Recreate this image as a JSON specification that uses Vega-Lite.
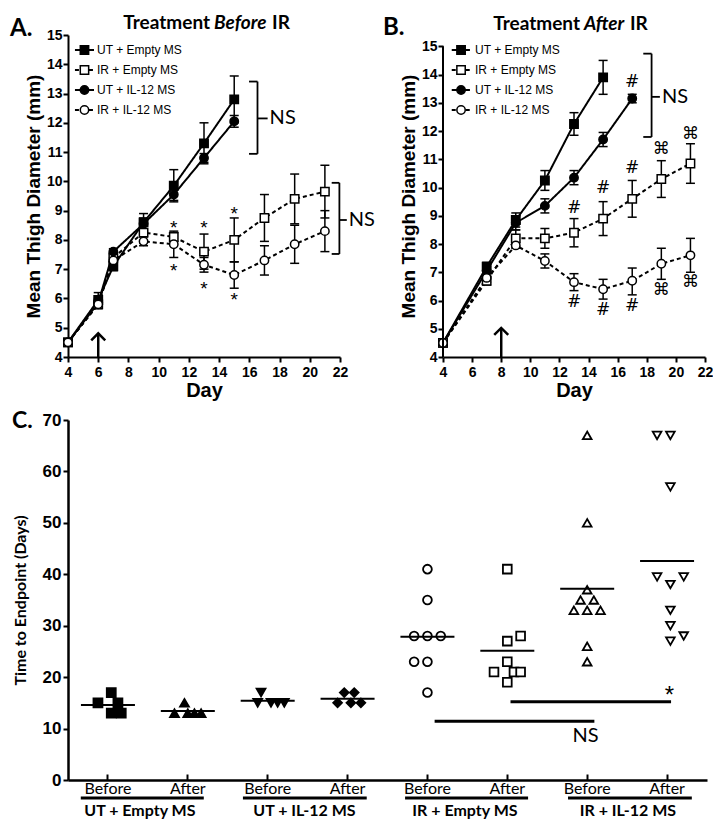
{
"$schema":"https://vega.github.io/schema/vega-lite/v6.json",
"background":"white",
"padding":{"left":9,"top":14,"right":0,"bottom":0},
"spacing":10,
"resolve":{"scale":{"shape":"independent","fill":"independent","size":"independent","strokeDash":"independent"}},
"config":{
 "view":{"stroke":null},
 "axis":{"domainColor":"black","domainWidth":2,"tickColor":"black","tickWidth":2,"tickSize":5,"labelColor":"black","labelFont":"Liberation Sans","labelFontWeight":"bold","labelFontSize":14,"labelPadding":2,"titleColor":"black","titleFont":"Liberation Sans","titleFontWeight":"bold","grid":false,"labelOverlap":false,"labelFlush":false},
 "text":{"color":"black","font":"Lato"},
 "rule":{"color":"black"}
},
"datasets":{
 "A":[
  {"series":"UT + Empty MS","day":4,"mean":4.5,"lo":null,"hi":null},
  {"series":"UT + Empty MS","day":6,"mean":5.95,"lo":5.75,"hi":6.2},
  {"series":"UT + Empty MS","day":7,"mean":7.1,"lo":6.95,"hi":7.25},
  {"series":"UT + Empty MS","day":9,"mean":8.6,"lo":8.3,"hi":8.9},
  {"series":"UT + Empty MS","day":11,"mean":9.85,"lo":9.3,"hi":10.4},
  {"series":"UT + Empty MS","day":13,"mean":11.3,"lo":10.6,"hi":12.0},
  {"series":"UT + Empty MS","day":15,"mean":12.8,"lo":12.0,"hi":13.6},
  {"series":"IR + Empty MS","day":4,"mean":4.5,"lo":null,"hi":null},
  {"series":"IR + Empty MS","day":6,"mean":5.8,"lo":5.65,"hi":5.95},
  {"series":"IR + Empty MS","day":7,"mean":7.4,"lo":7.25,"hi":7.55},
  {"series":"IR + Empty MS","day":9,"mean":8.25,"lo":7.95,"hi":8.55},
  {"series":"IR + Empty MS","day":11,"mean":8.1,"lo":7.95,"hi":8.25},
  {"series":"IR + Empty MS","day":13,"mean":7.6,"lo":7.0,"hi":8.2},
  {"series":"IR + Empty MS","day":15,"mean":8.0,"lo":7.25,"hi":8.75},
  {"series":"IR + Empty MS","day":17,"mean":8.75,"lo":7.95,"hi":9.55},
  {"series":"IR + Empty MS","day":19,"mean":9.4,"lo":8.55,"hi":10.25},
  {"series":"IR + Empty MS","day":21,"mean":9.65,"lo":8.75,"hi":10.55},
  {"series":"UT + IL-12 MS","day":4,"mean":4.5,"lo":null,"hi":null},
  {"series":"UT + IL-12 MS","day":6,"mean":5.85,"lo":5.7,"hi":6.0},
  {"series":"UT + IL-12 MS","day":7,"mean":7.6,"lo":7.5,"hi":7.7},
  {"series":"UT + IL-12 MS","day":9,"mean":8.55,"lo":8.35,"hi":8.75},
  {"series":"UT + IL-12 MS","day":11,"mean":9.55,"lo":9.35,"hi":9.75},
  {"series":"UT + IL-12 MS","day":13,"mean":10.8,"lo":10.65,"hi":10.95},
  {"series":"UT + IL-12 MS","day":15,"mean":12.05,"lo":11.85,"hi":12.25},
  {"series":"IR + IL-12 MS","day":4,"mean":4.5,"lo":null,"hi":null},
  {"series":"IR + IL-12 MS","day":6,"mean":5.8,"lo":5.7,"hi":5.9},
  {"series":"IR + IL-12 MS","day":7,"mean":7.3,"lo":7.2,"hi":7.4},
  {"series":"IR + IL-12 MS","day":9,"mean":7.95,"lo":7.8,"hi":8.1},
  {"series":"IR + IL-12 MS","day":11,"mean":7.85,"lo":7.4,"hi":8.3},
  {"series":"IR + IL-12 MS","day":13,"mean":7.15,"lo":6.9,"hi":7.4},
  {"series":"IR + IL-12 MS","day":15,"mean":6.8,"lo":6.35,"hi":7.25},
  {"series":"IR + IL-12 MS","day":17,"mean":7.3,"lo":6.8,"hi":7.8},
  {"series":"IR + IL-12 MS","day":19,"mean":7.85,"lo":7.2,"hi":8.5},
  {"series":"IR + IL-12 MS","day":21,"mean":8.3,"lo":7.6,"hi":9.0}
 ],
 "B":[
  {"series":"UT + Empty MS","day":4,"mean":4.5,"lo":null,"hi":null},
  {"series":"UT + Empty MS","day":7,"mean":7.2,"lo":7.05,"hi":7.35},
  {"series":"UT + Empty MS","day":9,"mean":8.85,"lo":8.6,"hi":9.1},
  {"series":"UT + Empty MS","day":11,"mean":10.25,"lo":9.9,"hi":10.6},
  {"series":"UT + Empty MS","day":13,"mean":12.25,"lo":11.85,"hi":12.65},
  {"series":"UT + Empty MS","day":15,"mean":13.9,"lo":13.3,"hi":14.5},
  {"series":"UT + IL-12 MS","day":4,"mean":4.5,"lo":null,"hi":null},
  {"series":"UT + IL-12 MS","day":7,"mean":7.05,"lo":6.9,"hi":7.2},
  {"series":"UT + IL-12 MS","day":9,"mean":8.75,"lo":8.5,"hi":9.0},
  {"series":"UT + IL-12 MS","day":11,"mean":9.35,"lo":9.1,"hi":9.6},
  {"series":"UT + IL-12 MS","day":13,"mean":10.35,"lo":10.1,"hi":10.6},
  {"series":"UT + IL-12 MS","day":15,"mean":11.7,"lo":11.45,"hi":11.95},
  {"series":"UT + IL-12 MS","day":17,"mean":13.15,"lo":13.0,"hi":13.3},
  {"series":"IR + Empty MS","day":4,"mean":4.5,"lo":null,"hi":null},
  {"series":"IR + Empty MS","day":7,"mean":6.7,"lo":6.55,"hi":6.85},
  {"series":"IR + Empty MS","day":9,"mean":8.2,"lo":7.9,"hi":8.5},
  {"series":"IR + Empty MS","day":11,"mean":8.2,"lo":7.85,"hi":8.55},
  {"series":"IR + Empty MS","day":13,"mean":8.4,"lo":7.9,"hi":8.9},
  {"series":"IR + Empty MS","day":15,"mean":8.9,"lo":8.3,"hi":9.5},
  {"series":"IR + Empty MS","day":17,"mean":9.6,"lo":8.95,"hi":10.25},
  {"series":"IR + Empty MS","day":19,"mean":10.3,"lo":9.65,"hi":10.95},
  {"series":"IR + Empty MS","day":21,"mean":10.85,"lo":10.15,"hi":11.55},
  {"series":"IR + IL-12 MS","day":4,"mean":4.5,"lo":null,"hi":null},
  {"series":"IR + IL-12 MS","day":7,"mean":6.8,"lo":6.65,"hi":6.95},
  {"series":"IR + IL-12 MS","day":9,"mean":7.95,"lo":7.85,"hi":8.05},
  {"series":"IR + IL-12 MS","day":11,"mean":7.4,"lo":7.15,"hi":7.65},
  {"series":"IR + IL-12 MS","day":13,"mean":6.65,"lo":6.35,"hi":6.95},
  {"series":"IR + IL-12 MS","day":15,"mean":6.4,"lo":6.05,"hi":6.75},
  {"series":"IR + IL-12 MS","day":17,"mean":6.7,"lo":6.2,"hi":7.15},
  {"series":"IR + IL-12 MS","day":19,"mean":7.3,"lo":6.75,"hi":7.85},
  {"series":"IR + IL-12 MS","day":21,"mean":7.6,"lo":7.0,"hi":8.2}
 ],
 "Asig":[
  {"day":11,"y":8.57,"sym":"*"},{"day":13,"y":8.57,"sym":"*"},{"day":15,"y":9.05,"sym":"*"},
  {"day":11,"y":7.11,"sym":"*"},{"day":13,"y":6.49,"sym":"*"},{"day":15,"y":6.12,"sym":"*"}
 ],
 "Bsig":[
  {"day":13,"y":9.27,"sym":"#"},{"day":15,"y":9.97,"sym":"#"},{"day":17,"y":10.68,"sym":"#"},{"day":17,"y":13.73,"sym":"#"},
  {"day":13,"y":5.95,"sym":"#"},{"day":15,"y":5.66,"sym":"#"},{"day":17,"y":5.8,"sym":"#"},
  {"day":19,"y":11.38,"sym":"⌘"},{"day":21,"y":11.9,"sym":"⌘"},{"day":19,"y":6.37,"sym":"⌘"},{"day":21,"y":6.66,"sym":"⌘"}
 ],
 "Abr":[
  {"left":15.98,"vert":16.54,"right":17.21,"top":13.41,"bottom":10.94,"mid":12.15,"label":"NS"},
  {"left":21.45,"vert":21.96,"right":22.45,"top":9.95,"bottom":7.52,"mid":8.68,"label":"NS"}
 ],
 "Bbr":[
  {"left":17.76,"vert":18.33,"right":18.9,"top":14.74,"bottom":11.79,"mid":13.21,"label":"NS"}
 ],
 "legend":[
  {"series":"UT + Empty MS","order":1},{"series":"IR + Empty MS","order":2},
  {"series":"UT + IL-12 MS","order":3},{"series":"IR + IL-12 MS","order":4}
 ],
 "C":[
  {"cat":"UT + Empty MS Before","value":17,"slot":1},{"cat":"UT + Empty MS Before","value":15,"slot":-3},{"cat":"UT + Empty MS Before","value":15,"slot":3},{"cat":"UT + Empty MS Before","value":13,"slot":1},{"cat":"UT + Empty MS Before","value":13,"slot":4},
  {"cat":"UT + Empty MS After","value":15,"slot":-1},{"cat":"UT + Empty MS After","value":13,"slot":-4},{"cat":"UT + Empty MS After","value":13,"slot":0},{"cat":"UT + Empty MS After","value":13,"slot":2},{"cat":"UT + Empty MS After","value":13,"slot":4},
  {"cat":"UT + IL-12 MS Before","value":17,"slot":-2},{"cat":"UT + IL-12 MS Before","value":15,"slot":-3},{"cat":"UT + IL-12 MS Before","value":15,"slot":1},{"cat":"UT + IL-12 MS Before","value":15,"slot":3},{"cat":"UT + IL-12 MS Before","value":15,"slot":5},
  {"cat":"UT + IL-12 MS After","value":17,"slot":-1},{"cat":"UT + IL-12 MS After","value":17,"slot":2},{"cat":"UT + IL-12 MS After","value":15,"slot":-3},{"cat":"UT + IL-12 MS After","value":15,"slot":1},{"cat":"UT + IL-12 MS After","value":15,"slot":4},
  {"cat":"IR + Empty MS Before","value":41,"slot":0},{"cat":"IR + Empty MS Before","value":35,"slot":0},{"cat":"IR + Empty MS Before","value":28,"slot":-4},{"cat":"IR + Empty MS Before","value":28,"slot":0},{"cat":"IR + Empty MS Before","value":28,"slot":4},{"cat":"IR + Empty MS Before","value":23,"slot":-4},{"cat":"IR + Empty MS Before","value":23,"slot":0},{"cat":"IR + Empty MS Before","value":17,"slot":0},
  {"cat":"IR + Empty MS After","value":41,"slot":0},{"cat":"IR + Empty MS After","value":28,"slot":4},{"cat":"IR + Empty MS After","value":27,"slot":0},{"cat":"IR + Empty MS After","value":23,"slot":0},{"cat":"IR + Empty MS After","value":21,"slot":-4},{"cat":"IR + Empty MS After","value":21,"slot":2},{"cat":"IR + Empty MS After","value":21,"slot":4},{"cat":"IR + Empty MS After","value":19,"slot":0},
  {"cat":"IR + IL-12 MS Before","value":67,"slot":0},{"cat":"IR + IL-12 MS Before","value":50,"slot":0},{"cat":"IR + IL-12 MS Before","value":37,"slot":0},{"cat":"IR + IL-12 MS Before","value":35,"slot":-2},{"cat":"IR + IL-12 MS Before","value":35,"slot":2},{"cat":"IR + IL-12 MS Before","value":33,"slot":-4},{"cat":"IR + IL-12 MS Before","value":33,"slot":0},{"cat":"IR + IL-12 MS Before","value":33,"slot":4},{"cat":"IR + IL-12 MS Before","value":26,"slot":0},{"cat":"IR + IL-12 MS Before","value":23,"slot":0},
  {"cat":"IR + IL-12 MS After","value":67,"slot":-3},{"cat":"IR + IL-12 MS After","value":67,"slot":1},{"cat":"IR + IL-12 MS After","value":57,"slot":1},{"cat":"IR + IL-12 MS After","value":39.5,"slot":-3},{"cat":"IR + IL-12 MS After","value":38,"slot":1},{"cat":"IR + IL-12 MS After","value":39.5,"slot":5},{"cat":"IR + IL-12 MS After","value":33,"slot":1},{"cat":"IR + IL-12 MS After","value":30,"slot":1},{"cat":"IR + IL-12 MS After","value":27,"slot":1},{"cat":"IR + IL-12 MS After","value":28,"slot":5}
 ],
 "Cgroups":[
  {"group":"UT + Empty MS","from":0.16,"to":1.7,"mid":0.9},
  {"group":"UT + IL-12 MS","from":2.19,"to":3.74,"mid":2.96},
  {"group":"IR + Empty MS","from":4.22,"to":5.76,"mid":4.97},
  {"group":"IR + IL-12 MS","from":6.26,"to":7.81,"mid":7.01}
 ],
 "Cbars":[
  {"from":4.59,"to":6.59,"y":11.4},
  {"from":5.54,"to":7.55,"y":15.2}
 ]
},
"vconcat":[
 {"hconcat":[
  {
   "width":272,"height":322,
   "resolve":{"scale":{"y":"independent"}},
   "layer":[
    {"layer":[
     {"data":{"name":"A"},"mark":{"type":"line","color":"black","strokeWidth":2},
      "encoding":{
       "x":{"field":"day","type":"quantitative","scale":{"domain":[4,22],"nice":false,"zero":false},"axis":{"values":[4,6,8,10,12,14,16,18,20,22],"tickCount":40,"format":"d","labelOverlap":false,"labelFlush":false,"title":"Day","titleFontSize":20,"titlePadding":1,"labelPadding":3}},
       "y":{"field":"mean","type":"quantitative","scale":{"domain":[4,15],"nice":false,"zero":false},"axis":{"values":[4,5,6,7,8,9,10,11,12,13,14,15],"tickCount":40,"format":"d","labelOverlap":false,"labelFlush":false,"title":"Mean Thigh Diameter (mm)","titleFontSize":19,"titlePadding":3,"labelPadding":1}},
       "detail":{"field":"series"},
       "strokeDash":{"field":"series","type":"nominal","scale":{"domain":["UT + Empty MS","IR + Empty MS","UT + IL-12 MS","IR + IL-12 MS"],"range":[[1,0],[4,3],[1,0],[4,3]]},"legend":null}
      }},
     {"data":{"name":"A"},"transform":[{"filter":"isValid(datum.lo)"}],"layer":[
      {"mark":{"type":"rule","strokeWidth":1.5,"color":"black"},"encoding":{"x":{"field":"day","type":"quantitative"},"y":{"field":"lo","type":"quantitative"},"y2":{"field":"hi"}}},
      {"mark":{"type":"tick","orient":"horizontal","size":9,"thickness":1.5,"color":"black","opacity":1},"encoding":{"x":{"field":"day","type":"quantitative"},"y":{"field":"lo","type":"quantitative"}}},
      {"mark":{"type":"tick","orient":"horizontal","size":9,"thickness":1.5,"color":"black","opacity":1},"encoding":{"x":{"field":"day","type":"quantitative"},"y":{"field":"hi","type":"quantitative"}}}
     ]},
     {"data":{"name":"A"},"mark":{"type":"point","filled":true,"stroke":"black","strokeWidth":1.5,"opacity":1},
      "encoding":{
       "x":{"field":"day","type":"quantitative"},
       "y":{"field":"mean","type":"quantitative"},
       "shape":{"field":"series","type":"nominal","scale":{"domain":["UT + Empty MS","IR + Empty MS","UT + IL-12 MS","IR + IL-12 MS"],"range":["square","square","circle","circle"]},"legend":null},
       "fill":{"field":"series","type":"nominal","scale":{"domain":["UT + Empty MS","IR + Empty MS","UT + IL-12 MS","IR + IL-12 MS"],"range":["black","white","black","white"]},"legend":null},
       "size":{"field":"series","type":"nominal","scale":{"domain":["UT + Empty MS","IR + Empty MS","UT + IL-12 MS","IR + IL-12 MS"],"range":[70,70,42,56]},"legend":null}
      }},
     {"data":{"name":"Asig"},"mark":{"type":"text","font":"Liberation Sans","fontSize":19,"dy":5,"color":"black"},
      "encoding":{"x":{"field":"day","type":"quantitative"},"y":{"field":"y","type":"quantitative"},"text":{"field":"sym"}}},
     {"data":{"name":"Abr"},"layer":[
      {"mark":{"type":"rule","strokeWidth":1.8},"encoding":{"x":{"field":"vert","type":"quantitative"},"y":{"field":"top","type":"quantitative"},"y2":{"field":"bottom"}}},
      {"mark":{"type":"rule","strokeWidth":1.8},"encoding":{"x":{"field":"left","type":"quantitative"},"x2":{"field":"vert"},"y":{"field":"top","type":"quantitative"}}},
      {"mark":{"type":"rule","strokeWidth":1.8},"encoding":{"x":{"field":"left","type":"quantitative"},"x2":{"field":"vert"},"y":{"field":"bottom","type":"quantitative"}}},
      {"mark":{"type":"rule","strokeWidth":1.8},"encoding":{"x":{"field":"vert","type":"quantitative"},"x2":{"field":"right"},"y":{"field":"mid","type":"quantitative"}}},
      {"mark":{"type":"text","align":"left","baseline":"middle","dx":2,"font":"Lato","fontSize":20,"color":"black"},"encoding":{"x":{"field":"right","type":"quantitative"},"y":{"field":"mid","type":"quantitative"},"text":{"field":"label"}}}
     ]},
     {"data":{"values":[{}]},"layer":[
      {"mark":{"type":"rule","strokeWidth":2.5},"encoding":{"x":{"datum":6},"y":{"datum":4},"y2":{"datum":4.81}}},
      {"mark":{"type":"point","shape":"M-1,1L0,0L1,1","size":196,"filled":false,"stroke":"black","strokeWidth":2.5,"opacity":1},"encoding":{"x":{"datum":6},"y":{"datum":4.81}}},
      {"mark":{"type":"text","align":"left","baseline":"alphabetic","font":"Lato","fontWeight":"bold","fontSize":24,"text":"A.","color":"black"},"encoding":{"x":{"datum":0.16},"y":{"datum":14.97}}},
      {"mark":{"type":"text","align":"right","baseline":"alphabetic","font":"Lato","fontWeight":"bold","fontSize":19,"text":"Treatment","color":"black"},"encoding":{"x":{"datum":13.4},"y":{"datum":15.19}}},
      {"mark":{"type":"text","align":"left","baseline":"alphabetic","font":"Lato","fontWeight":"bold","fontStyle":"italic","fontSize":19,"text":"Before","color":"black"},"encoding":{"x":{"datum":13.66},"y":{"datum":15.19}}},
      {"mark":{"type":"text","align":"left","baseline":"alphabetic","font":"Lato","fontWeight":"bold","fontSize":19,"text":"IR","color":"black"},"encoding":{"x":{"datum":17.5},"y":{"datum":15.19}}}
     ]}
    ]},
    {"data":{"name":"legend"},
     "encoding":{"y":{"field":"order","type":"quantitative","scale":{"domain":[0.25,16.35],"reverse":true,"nice":false,"zero":false},"axis":null}},
     "layer":[
      {"mark":{"type":"rule","strokeWidth":2.2},"encoding":{"x":{"datum":4.46},"x2":{"datum":5.72},
        "strokeDash":{"field":"series","type":"nominal","scale":{"domain":["UT + Empty MS","IR + Empty MS","UT + IL-12 MS","IR + IL-12 MS"],"range":[[1,0],[4,3],[1,0],[4,3]]},"legend":null}}},
      {"mark":{"type":"point","filled":true,"stroke":"black","strokeWidth":1.5,"opacity":1},"encoding":{"x":{"datum":5.09},
        "shape":{"field":"series","type":"nominal","scale":{"domain":["UT + Empty MS","IR + Empty MS","UT + IL-12 MS","IR + IL-12 MS"],"range":["square","square","circle","circle"]},"legend":null},
        "fill":{"field":"series","type":"nominal","scale":{"domain":["UT + Empty MS","IR + Empty MS","UT + IL-12 MS","IR + IL-12 MS"],"range":["black","white","black","white"]},"legend":null},
        "size":{"field":"series","type":"nominal","scale":{"domain":["UT + Empty MS","IR + Empty MS","UT + IL-12 MS","IR + IL-12 MS"],"range":[70,70,42,56]},"legend":null}}},
      {"mark":{"type":"text","align":"left","baseline":"middle","font":"Liberation Sans","fontSize":12,"color":"black"},"encoding":{"x":{"datum":5.92},"text":{"field":"series"}}}
     ]}
   ]
  },
  {
   "width":262,"height":322,
   "resolve":{"scale":{"y":"independent"}},
   "layer":[
    {"layer":[
     {"data":{"name":"B"},"mark":{"type":"line","color":"black","strokeWidth":2},
      "encoding":{
       "x":{"field":"day","type":"quantitative","scale":{"domain":[4,22],"nice":false,"zero":false},"axis":{"values":[4,6,8,10,12,14,16,18,20,22],"tickCount":40,"format":"d","labelOverlap":false,"labelFlush":false,"title":"Day","titleFontSize":20,"titlePadding":1,"labelPadding":3}},
       "y":{"field":"mean","type":"quantitative","scale":{"domain":[4,15.4],"nice":false,"zero":false},"axis":{"values":[4,5,6,7,8,9,10,11,12,13,14,15],"tickCount":40,"format":"d","labelOverlap":false,"labelFlush":false,"domain":false,"title":"Mean Thigh Diameter (mm)","titleFontSize":19,"titlePadding":3,"labelPadding":1}},
       "detail":{"field":"series"},
       "strokeDash":{"field":"series","type":"nominal","scale":{"domain":["UT + Empty MS","IR + Empty MS","UT + IL-12 MS","IR + IL-12 MS"],"range":[[1,0],[4,3],[1,0],[4,3]]},"legend":null}
      }},
     {"data":{"name":"B"},"transform":[{"filter":"isValid(datum.lo)"}],"layer":[
      {"mark":{"type":"rule","strokeWidth":1.5,"color":"black"},"encoding":{"x":{"field":"day","type":"quantitative"},"y":{"field":"lo","type":"quantitative"},"y2":{"field":"hi"}}},
      {"mark":{"type":"tick","orient":"horizontal","size":9,"thickness":1.5,"color":"black","opacity":1},"encoding":{"x":{"field":"day","type":"quantitative"},"y":{"field":"lo","type":"quantitative"}}},
      {"mark":{"type":"tick","orient":"horizontal","size":9,"thickness":1.5,"color":"black","opacity":1},"encoding":{"x":{"field":"day","type":"quantitative"},"y":{"field":"hi","type":"quantitative"}}}
     ]},
     {"data":{"name":"B"},"mark":{"type":"point","filled":true,"stroke":"black","strokeWidth":1.5,"opacity":1},
      "encoding":{
       "x":{"field":"day","type":"quantitative"},
       "y":{"field":"mean","type":"quantitative"},
       "shape":{"field":"series","type":"nominal","scale":{"domain":["UT + Empty MS","IR + Empty MS","UT + IL-12 MS","IR + IL-12 MS"],"range":["square","square","circle","circle"]},"legend":null},
       "fill":{"field":"series","type":"nominal","scale":{"domain":["UT + Empty MS","IR + Empty MS","UT + IL-12 MS","IR + IL-12 MS"],"range":["black","white","black","white"]},"legend":null},
       "size":{"field":"series","type":"nominal","scale":{"domain":["UT + Empty MS","IR + Empty MS","UT + IL-12 MS","IR + IL-12 MS"],"range":[70,70,42,56]},"legend":null}
      }},
     {"data":{"name":"Bsig"},"mark":{"type":"text","font":"DejaVu Sans","fontSize":17,"color":"black"},
      "encoding":{"x":{"field":"day","type":"quantitative"},"y":{"field":"y","type":"quantitative"},"text":{"field":"sym"}}},
     {"data":{"name":"Bbr"},"layer":[
      {"mark":{"type":"rule","strokeWidth":1.8},"encoding":{"x":{"field":"vert","type":"quantitative"},"y":{"field":"top","type":"quantitative"},"y2":{"field":"bottom"}}},
      {"mark":{"type":"rule","strokeWidth":1.8},"encoding":{"x":{"field":"left","type":"quantitative"},"x2":{"field":"vert"},"y":{"field":"top","type":"quantitative"}}},
      {"mark":{"type":"rule","strokeWidth":1.8},"encoding":{"x":{"field":"left","type":"quantitative"},"x2":{"field":"vert"},"y":{"field":"bottom","type":"quantitative"}}},
      {"mark":{"type":"rule","strokeWidth":1.8},"encoding":{"x":{"field":"vert","type":"quantitative"},"x2":{"field":"right"},"y":{"field":"mid","type":"quantitative"}}},
      {"mark":{"type":"text","align":"left","baseline":"middle","dx":2,"font":"Lato","fontSize":20,"color":"black"},"encoding":{"x":{"field":"right","type":"quantitative"},"y":{"field":"mid","type":"quantitative"},"text":{"field":"label"}}}
     ]},
     {"data":{"values":[{}]},"layer":[
      {"mark":{"type":"rule","strokeWidth":2},"encoding":{"x":{"datum":4},"y":{"datum":4},"y2":{"datum":15}}},
      {"mark":{"type":"rule","strokeWidth":2.5},"encoding":{"x":{"datum":8},"y":{"datum":4},"y2":{"datum":5.03}}},
      {"mark":{"type":"point","shape":"M-1,1L0,0L1,1","size":196,"filled":false,"stroke":"black","strokeWidth":2.5,"opacity":1},"encoding":{"x":{"datum":8},"y":{"datum":5.03}}},
      {"mark":{"type":"text","align":"left","baseline":"alphabetic","font":"Lato","fontWeight":"bold","fontSize":24,"text":"B.","color":"black"},"encoding":{"x":{"datum":-0.12},"y":{"datum":15.4}}},
      {"mark":{"type":"text","align":"right","baseline":"alphabetic","font":"Lato","fontWeight":"bold","fontSize":19,"text":"Treatment","color":"black"},"encoding":{"x":{"datum":13.41},"y":{"datum":15.58}}},
      {"mark":{"type":"text","align":"left","baseline":"alphabetic","font":"Lato","fontWeight":"bold","fontStyle":"italic","fontSize":19,"text":"After","color":"black"},"encoding":{"x":{"datum":13.68},"y":{"datum":15.58}}},
      {"mark":{"type":"text","align":"left","baseline":"alphabetic","font":"Lato","fontWeight":"bold","fontSize":19,"text":"IR","color":"black"},"encoding":{"x":{"datum":16.84},"y":{"datum":15.58}}}
     ]}
    ]},
    {"data":{"name":"legend"},
     "encoding":{"y":{"field":"order","type":"quantitative","scale":{"domain":[0.25,16.35],"reverse":true,"nice":false,"zero":false},"axis":null}},
     "layer":[
      {"mark":{"type":"rule","strokeWidth":2.2},"encoding":{"x":{"datum":4.6},"x2":{"datum":5.85},
        "strokeDash":{"field":"series","type":"nominal","scale":{"domain":["UT + Empty MS","IR + Empty MS","UT + IL-12 MS","IR + IL-12 MS"],"range":[[1,0],[4,3],[1,0],[4,3]]},"legend":null}}},
      {"mark":{"type":"point","filled":true,"stroke":"black","strokeWidth":1.5,"opacity":1},"encoding":{"x":{"datum":5.24},
        "shape":{"field":"series","type":"nominal","scale":{"domain":["UT + Empty MS","IR + Empty MS","UT + IL-12 MS","IR + IL-12 MS"],"range":["square","square","circle","circle"]},"legend":null},
        "fill":{"field":"series","type":"nominal","scale":{"domain":["UT + Empty MS","IR + Empty MS","UT + IL-12 MS","IR + IL-12 MS"],"range":["black","white","black","white"]},"legend":null},
        "size":{"field":"series","type":"nominal","scale":{"domain":["UT + Empty MS","IR + Empty MS","UT + IL-12 MS","IR + IL-12 MS"],"range":[70,70,42,56]},"legend":null}}},
      {"mark":{"type":"text","align":"left","baseline":"middle","font":"Liberation Sans","fontSize":12,"color":"black"},"encoding":{"x":{"datum":6.2},"text":{"field":"series"}}}
     ]}
   ]
  }
 ],"spacing":103,"bounds":"flush","resolve":{"scale":{"shape":"independent","fill":"independent","size":"independent","strokeDash":"independent"}}},
 {
  "width":639,"height":360,
  "resolve":{"scale":{"x":"independent"}},
  "layer":[
   {"data":{"name":"C"},"layer":[
    {"mark":{"type":"point","filled":true,"stroke":"black","strokeWidth":1.8,"opacity":1},
     "encoding":{
      "x":{"field":"cat","type":"nominal","sort":null,"scale":{"domain":["UT + Empty MS Before","UT + Empty MS After","UT + IL-12 MS Before","UT + IL-12 MS After","IR + Empty MS Before","IR + Empty MS After","IR + IL-12 MS Before","IR + IL-12 MS After"],"paddingInner":0,"paddingOuter":0},
        "axis":{"title":null,"labelExpr":"indexof(datum.value,'Before')>=0?'Before':'After'","labelAngle":0,"labelOverlap":false,"labelFlush":false,"labelFont":"Lato","labelFontWeight":"normal","labelFontSize":16,"tickSize":-6,"labelPadding":6,"domainWidth":2.5}},
      "xOffset":{"field":"slot","type":"ordinal","scale":{"domain":[-12,-11,-10,-9,-8,-7,-6,-5,-4,-3,-2,-1,0,1,2,3,4,5,6,7,8,9,10,11,12],"paddingInner":0,"paddingOuter":0}},
      "y":{"field":"value","type":"quantitative","scale":{"domain":[0,70],"nice":false,"zero":false},"axis":{"values":[0,10,20,30,40,50,60,70],"tickCount":40,"format":"d","labelOverlap":false,"labelFlush":false,"title":"Time to Endpoint (Days)","titleFont":"Lato","titleFontSize":16,"titlePadding":14,"labelFontSize":17,"labelPadding":2,"domainWidth":2.5}},
      "shape":{"field":"cat","type":"nominal","scale":{"domain":["UT + Empty MS Before","UT + Empty MS After","UT + IL-12 MS Before","UT + IL-12 MS After","IR + Empty MS Before","IR + Empty MS After","IR + IL-12 MS Before","IR + IL-12 MS After"],"range":["square","triangle-up","triangle-down","diamond","circle","square","triangle-up","triangle-down"]},"legend":null},
      "fill":{"field":"cat","type":"nominal","scale":{"domain":["UT + Empty MS Before","UT + Empty MS After","UT + IL-12 MS Before","UT + IL-12 MS After","IR + Empty MS Before","IR + Empty MS After","IR + IL-12 MS Before","IR + IL-12 MS After"],"range":["black","black","black","black","white","white","white","white"]},"legend":null},
      "size":{"field":"cat","type":"nominal","scale":{"domain":["UT + Empty MS Before","UT + Empty MS After","UT + IL-12 MS Before","UT + IL-12 MS After","IR + Empty MS Before","IR + Empty MS After","IR + IL-12 MS Before","IR + IL-12 MS After"],"range":[80,75,75,80,60,75,75,75]},"legend":null}
     }},
    {"mark":{"type":"tick","orient":"horizontal","color":"black","size":54,"thickness":2,"opacity":1},
     "encoding":{"x":{"field":"cat","type":"nominal","sort":null},"y":{"aggregate":"mean","field":"value","type":"quantitative"}}}
   ]},
   {"layer":[
    {"data":{"name":"Cgroups"},"mark":{"type":"rule","strokeWidth":3},
     "encoding":{"x":{"field":"from","type":"quantitative","scale":{"domain":[0,8],"nice":false,"zero":false},"axis":null},"x2":{"field":"to"},"y":{"datum":-3.5}}},
    {"data":{"name":"Cgroups"},"mark":{"type":"text","font":"Lato","fontWeight":"bold","fontSize":16,"baseline":"middle","color":"black"},
     "encoding":{"x":{"field":"mid","type":"quantitative","axis":null},"y":{"datum":-6.03},"text":{"field":"group"}}},
    {"data":{"name":"Cbars"},"mark":{"type":"rule","strokeWidth":3},
     "encoding":{"x":{"field":"from","type":"quantitative","axis":null},"x2":{"field":"to"},"y":{"field":"y","type":"quantitative"}}},
    {"data":{"values":[{}]},"layer":[
     {"mark":{"type":"text","font":"Lato","fontSize":20,"text":"NS","baseline":"middle","color":"black"},"encoding":{"x":{"datum":6.48,"axis":null},"y":{"datum":8.5}}},
     {"mark":{"type":"text","font":"Liberation Sans","fontSize":24,"text":"*","baseline":"middle","dy":7,"color":"black"},"encoding":{"x":{"datum":7.53,"axis":null},"y":{"datum":17.6}}},
     {"mark":{"type":"text","font":"Lato","fontWeight":"bold","fontSize":23,"text":"C.","align":"left","baseline":"alphabetic","color":"black"},"encoding":{"x":{"datum":-0.7,"axis":null},"y":{"datum":68.4}}}
    ]}
   ]}
  ]
 }
]
}
